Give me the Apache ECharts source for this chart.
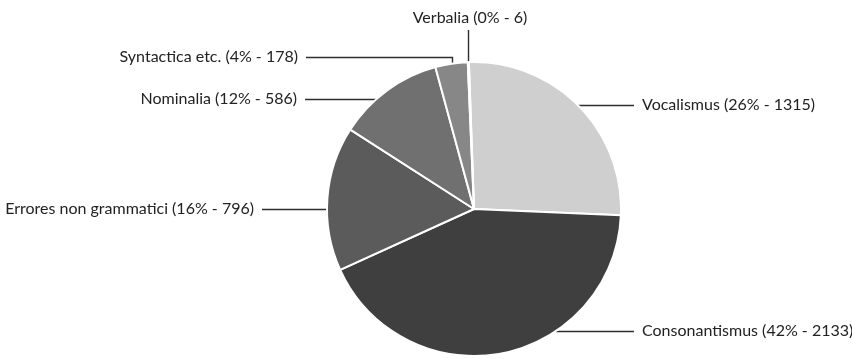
<!DOCTYPE html>
<html>
<head>
<meta charset="utf-8">
<script src="https://cdn.jsdelivr.net/npm/echarts@6/dist/echarts.min.js"></script>
<style>
    html, body { margin: 0; padding: 0; background: #fff; }
    #chart { width: 852px; height: 359px; }
</style>
</head>
<body>
<div id="chart"></div>
<script>
    // categories, clockwise from the top
    const categories = ['Vocalismus', 'Consonantismus', 'Errores non grammatici', 'Nominalia', 'Syntactica etc.', 'Verbalia']
    const counts = [1315, 2133, 796, 586, 178, 6]
    const sliceColors = ['#cfcfcf', '#3f3f3f', '#5b5b5b', '#707070', '#878787', '#9a9a9a']

    // pie geometry (pixels)
    const cx = 474, cy = 209, r = 147

    // where each label sits
    const labelSpots = [
        { x: 642, y: 105, align: 'left' },
        { x: 642, y: 331, align: 'left' },
        { x: 254, y: 209, align: 'right' },
        { x: 297, y: 99, align: 'right' },
        { x: 298, y: 57, align: 'right', bendX: 452 },
        { x: 470, y: 18, align: 'center', top: true }
    ]

    function edgeX(y, side) {
        const dy = y - cy
        return cx + side * Math.sqrt(Math.max(r * r - dy * dy, 0))
    }

    function edgeY(x) {
        const dx = x - cx
        return cy - Math.sqrt(Math.max(r * r - dx * dx, 0))
    }

    let myChart = echarts.init(document.getElementById('chart'))
    myChart.setOption({
        animation: false,
        series: [{
            type: 'pie',
            center: [cx, cy],
            radius: r,
            startAngle: 92,
            clockwise: true,
            percentPrecision: 0,
            avoidLabelOverlap: false,
            silent: true,
            itemStyle: {
                borderColor: '#ffffff',
                borderWidth: 2
            },
            label: {
                show: true,
                formatter: '{b} ({d}% - {c})',
                color: '#222222',
                fontFamily: 'Lato',
                fontSize: 16
            },
            labelLine: {
                show: true,
                lineStyle: { color: '#2e2e2e', width: 1.4 }
            },
            labelLayout: function (params) {
                const s = labelSpots[params.dataIndex]
                let pts
                if (s.top) {
                    const y0 = edgeY(468.5)
                    pts = [[468.5, y0], [468.5, y0 - 10], [468.5, 30]]
                } else if (s.bendX) {
                    const y0 = edgeY(s.bendX)
                    pts = [[s.bendX + 0.5, y0], [s.bendX + 0.5, s.y + 0.5], [s.x + 8, s.y + 0.5]]
                } else if (s.align === 'left') {
                    const x0 = edgeX(s.y, 1)
                    pts = [[x0, s.y + 0.5], [x0 + 5, s.y + 0.5], [s.x - 8, s.y + 0.5]]
                } else {
                    const x0 = edgeX(s.y, -1)
                    pts = [[x0, s.y + 0.5], [x0 - 5, s.y + 0.5], [s.x + 8, s.y + 0.5]]
                }
                return {
                    x: s.x,
                    y: s.y,
                    align: s.align,
                    verticalAlign: 'middle',
                    labelLinePoints: pts
                }
            },
            data: categories.map(function (name, i) {
                return { name: name, value: counts[i], itemStyle: { color: sliceColors[i] } }
            })
        }]
    })
</script>
</body>
</html>
